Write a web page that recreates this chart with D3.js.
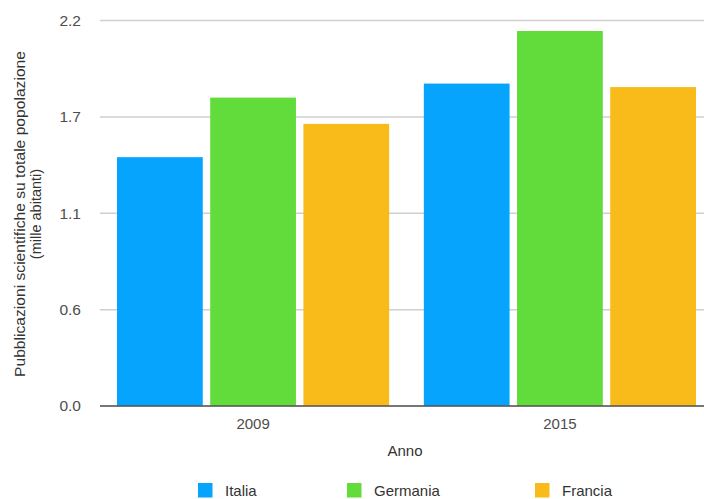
<!DOCTYPE html>
<html>
<head>
<meta charset="utf-8">
<script src="https://cdn.jsdelivr.net/npm/d3@7"></script>
<style>
  html, body { margin: 0; padding: 0; background: #fff; }
  svg { display: block; font-family: "Liberation Sans", Arial, Helvetica, sans-serif; }
</style>
</head>
<body>
<svg id="chart" width="704" height="499"></svg>
<script>
// Publications per thousand inhabitants, by year and country
const years = ["2009", "2015"];
const countries = ["Italia", "Germania", "Francia"];
const italia = [1.42, 1.84];
const germania = [1.76, 2.14];
const francia = [1.61, 1.82];
const colors = ["#06a4fc", "#62dc3a", "#f8bb19"];
const yTickValues = [0, 0.55, 1.1, 1.65, 2.2];
const yTickLabels = ["0.0", "0.6", "1.1", "1.7", "2.2"];

const seriesValues = [italia, germania, francia];
const rows = years.map((yr, i) => ({
  year: yr,
  values: countries.map((c, j) => ({ country: c, value: seriesValues[j][i], color: colors[j] }))
}));

const svg = d3.select("#chart");

const y = d3.scaleLinear().domain([0, 2.2]).range([406, 20.5]);
const x0 = d3.scaleBand().domain(years).range([117, 696]).paddingInner(0.113).paddingOuter(0);
const x1 = d3.scaleBand().domain(countries).range([0, x0.bandwidth()]).paddingInner(0.08).paddingOuter(0);

// y tick labels
svg.append("g")
  .attr("transform", "translate(100,0)")
  .call(d3.axisLeft(y).tickValues(yTickValues).tickFormat((d, i) => yTickLabels[i]).tickSize(0).tickPadding(19))
  .call(g => g.select(".domain").remove())
  .call(g => g.selectAll("text").attr("fill", "#4d4d4d").attr("font-size", 15.5));

// horizontal grid
svg.append("g")
  .selectAll("line")
  .data(yTickValues)
  .join("line")
  .attr("x1", 100).attr("x2", 704)
  .attr("y1", d => y(d)).attr("y2", d => y(d))
  .attr("stroke", "#cfcfcf")
  .attr("stroke-width", 1.5);

// bars
const groups = svg.append("g")
  .selectAll("g")
  .data(rows)
  .join("g")
  .attr("transform", d => `translate(${x0(d.year)},0)`);

groups.selectAll("rect")
  .data(d => d.values)
  .join("rect")
  .attr("x", d => x1(d.country))
  .attr("width", x1.bandwidth())
  .attr("y", d => y(d.value))
  .attr("height", d => y(0) - y(d.value))
  .attr("fill", d => d.color);

// baseline on top of the bars
svg.append("line")
  .attr("x1", 100).attr("x2", 704)
  .attr("y1", y(0)).attr("y2", y(0))
  .attr("stroke", "#555").attr("stroke-width", 1.6);

// x axis labels at group centres
svg.append("g")
  .attr("transform", `translate(0,${y(0)})`)
  .call(d3.axisBottom(x0).tickSize(0).tickPadding(12))
  .call(g => g.select(".domain").remove())
  .call(g => g.selectAll("text").attr("fill", "#4d4d4d").attr("font-size", 15));

// axis titles
svg.append("text")
  .attr("x", 405).attr("y", 456)
  .attr("text-anchor", "middle")
  .attr("font-size", 15).attr("fill", "#333")
  .text("Anno");

const yTitle = svg.append("text")
  .attr("transform", "translate(20,214) rotate(-90)")
  .attr("text-anchor", "middle")
  .attr("font-size", 14.5).attr("fill", "#333");
yTitle.append("tspan").attr("x", 0).attr("dy", "0.35em")
  .attr("textLength", 326).attr("lengthAdjust", "spacingAndGlyphs")
  .text("Pubblicazioni scientifiche su totale popolazione");
yTitle.append("tspan").attr("x", 0).attr("dy", "1.1em")
  .text("(mille abitanti)");

// legend
const legendX = [198, 347, 535];
const legend = svg.append("g")
  .selectAll("g")
  .data(countries)
  .join("g")
  .attr("transform", (d, i) => `translate(${legendX[i]},483)`);
legend.append("rect")
  .attr("width", 14.5).attr("height", 14.5)
  .attr("fill", (d, i) => colors[i]);
legend.append("text")
  .attr("x", 27).attr("y", 13)
  .attr("font-size", 15).attr("fill", "#333")
  .text(d => d);
</script>
</body>
</html>
